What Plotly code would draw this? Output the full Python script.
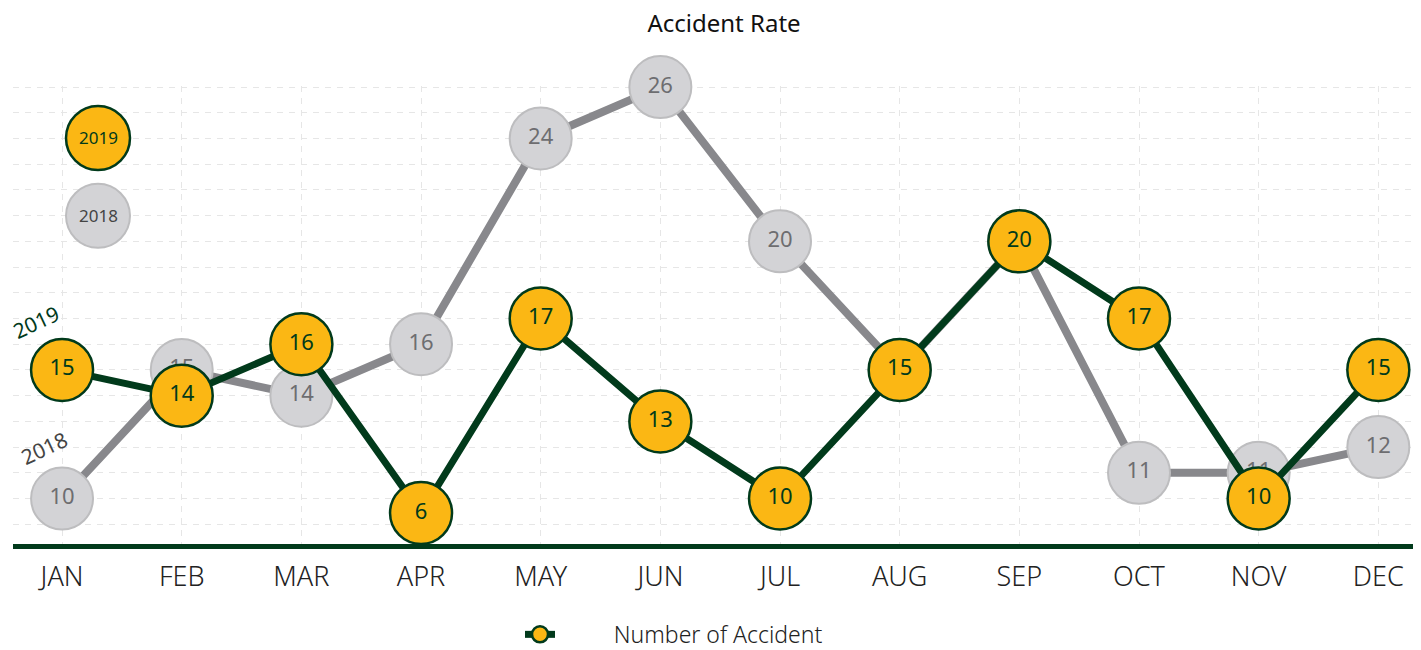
import numpy as np
import plotly.graph_objects as go

months = ["JAN", "FEB", "MAR", "APR", "MAY", "JUN", "JUL", "AUG", "SEP", "OCT", "NOV", "DEC"]
acc_2018 = [10, 15, 14, 16, 24, 26, 20, 15, 20, 11, 11, 12]
acc_2019 = [15, 14, 16, 6, 17, 13, 10, 15, 20, 17, 10, 15]

# page body has a small margin; figure is sized so the plot lands where the original is
OFFX, OFFY = 8, 7
W, H = 1421 - 8, 650 - 8
PLOT_TOP, PLOT_BOTTOM = 85, 543.5        # page pixels
ML, MR = 13 - OFFX, 2
MT = PLOT_TOP - OFFY
MB = H - (PLOT_BOTTOM - OFFY)
Y_RANGE = [8.233, 26.04]
plot_h = H - MT - MB
px_per_unit = plot_h / (Y_RANGE[1] - Y_RANGE[0])
MARKER = 62
# points below the visible range sit on the axis (as in the original chart)
floor_val = Y_RANGE[0] + (MARKER / 2) / px_per_unit
y18 = np.maximum(np.array(acc_2018, dtype=float), floor_val)
y19 = np.maximum(np.array(acc_2019, dtype=float), floor_val)

GREEN = "#013a1b"
YELLOW = "#fbb714"
GREY_LINE = "#88888c"
GREY_FILL = "#d3d3d6"
GREY_EDGE = "#bdbdbf"
FONT = "Noto Sans"

fig = go.Figure()
fig.add_trace(go.Scatter(
    x=months, y=y18, mode="lines+markers+text", name="2018",
    text=[str(v) for v in acc_2018], textposition="middle center",
    textfont=dict(family=FONT, size=22, color="#6d6d70"),
    line=dict(color=GREY_LINE, width=8),
    marker=dict(size=MARKER, color=GREY_FILL, line=dict(color=GREY_EDGE, width=2)),
    showlegend=False, cliponaxis=False,
))
fig.add_trace(go.Scatter(
    x=months, y=y19, mode="lines+markers+text",
    name="\u00a0" * 9 + "Number of Accident",
    text=[str(v) for v in acc_2019], textposition="middle center",
    textfont=dict(family=FONT, size=22, color=GREEN),
    line=dict(color=GREEN, width=7),
    marker=dict(size=MARKER, color=YELLOW, line=dict(color=GREEN, width=2.5)),
    showlegend=True, cliponaxis=False,
))

def px_x(px):
    return (px - OFFX - ML) / (W - ML - MR)

def px_y(py):
    return (H - MB - (py - OFFY)) / plot_h

shapes = []
annotations = []
for label, cy, fill, edge, ew, tc in [("2019", 137, YELLOW, GREEN, 2.5, GREEN),
                                       ("2018", 215, GREY_FILL, GREY_EDGE, 2, "#444444")]:
    shapes.append(dict(type="circle", xref="paper", yref="paper",
                       xsizemode="pixel", ysizemode="pixel",
                       xanchor=px_x(98), yanchor=px_y(cy),
                       x0=-32, x1=32, y0=-32, y1=32,
                       fillcolor=fill, line=dict(color=edge, width=ew)))
    annotations.append(dict(xref="paper", yref="paper", x=px_x(98), y=px_y(cy),
                            xanchor="center", yanchor="middle",
                            text=label, showarrow=False,
                            font=dict(family=FONT, size=17, color=tc)))

annotations.append(dict(x=months[0], y=y19[0], xref="x", yref="y", text="2019",
                        showarrow=False, textangle=-25, xshift=-26, yshift=48,
                        xanchor="center", yanchor="middle",
                        font=dict(family=FONT, size=21, color=GREEN)))
annotations.append(dict(x=months[0], y=y18[0], xref="x", yref="y", text="2018",
                        showarrow=False, textangle=-25, xshift=-18, yshift=51,
                        xanchor="center", yanchor="middle",
                        font=dict(family=FONT, size=21, color="#444444")))

fig.update_layout(
    width=W, height=H,
    margin=dict(l=ML, r=MR, t=MT, b=MB, autoexpand=False),
    paper_bgcolor="white", plot_bgcolor="white",
    title=dict(text="Accident Rate", x=(724 - OFFX) / W, xanchor="center",
               y=1 - (23 - OFFY) / H, yanchor="middle",
               font=dict(family=FONT, size=24, color="#111111")),
    xaxis=dict(range=[-0.41, 11.34], showgrid=True, gridcolor="#e6e6e6", griddash="6px,6px",
               gridwidth=1, showline=True, linecolor=GREEN, linewidth=5,
               ticks="", tickfont=dict(family=FONT, size=27, color="#222222", weight=300),
               zeroline=False, ticklabelstandoff=5, automargin=False),
    yaxis=dict(range=Y_RANGE, dtick=1, tick0=0, showgrid=True, gridcolor="#e6e6e6",
               griddash="6px,6px", gridwidth=1, showticklabels=False, zeroline=False,
               showline=False, automargin=False),
    legend=dict(orientation="h", x=px_x(520), xanchor="left", y=px_y(634), yanchor="middle",
                font=dict(family=FONT, size=23, color="#222222", weight=300)),
    shapes=shapes, annotations=annotations,
)

fig.write_html("out.html")
